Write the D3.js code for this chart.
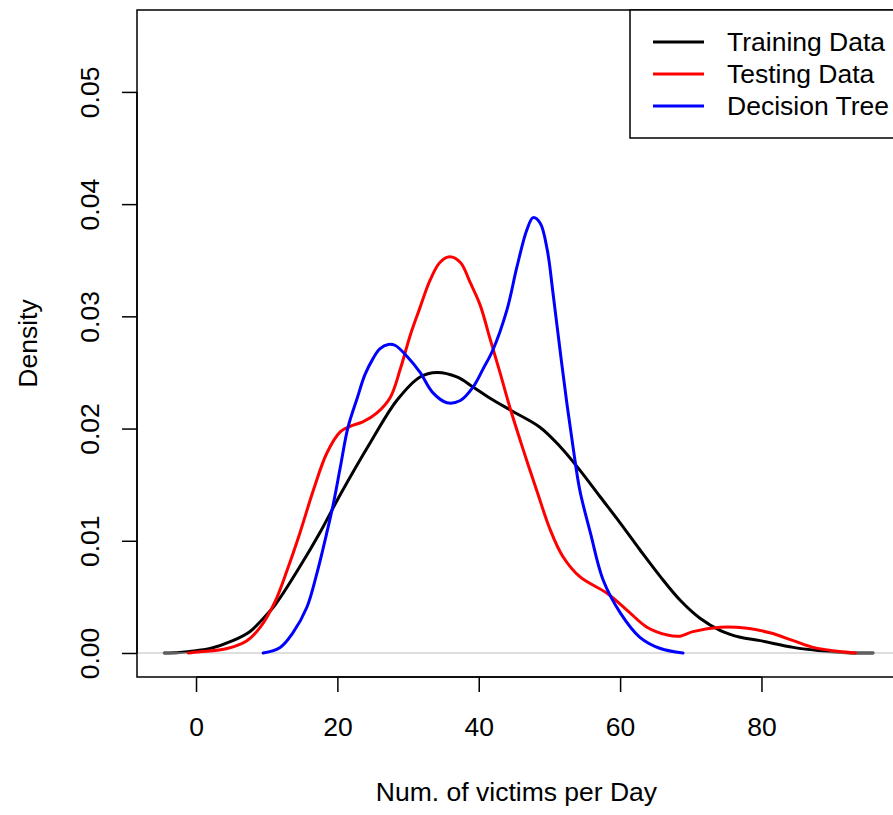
<!DOCTYPE html>
<html>
<head>
<meta charset="utf-8">
<script src="https://cdn.jsdelivr.net/npm/d3@7"></script>
<style>
  html, body { margin: 0; padding: 0; background: #fff; }
  svg { display: block; font-family: "Liberation Sans", Arial, Helvetica, sans-serif; }
</style>
</head>
<body>
<svg id="chart" width="893" height="815"></svg>
<script>
// Kernel density estimates: number of victims per day
const trainingX = [-4.5, -2.3, 0, 2.0, 5.2, 7.6, 9.1, 11.2, 14.7, 17.6, 20.4, 24.9, 28.4, 31.7, 34.1, 36.9, 39.2, 41.6, 44.9, 48.7, 51.5, 54.3, 57.2, 60.0, 62.8, 65.7, 68.5, 71.3, 74.2, 77.0, 79.8, 84.5, 88.3, 92.1, 95.8];
const trainingY = [0, 0.00005, 0.0002, 0.0004, 0.0011, 0.0019, 0.0028, 0.0043, 0.0077, 0.0108, 0.0141, 0.0190, 0.0225, 0.0246, 0.0250, 0.0246, 0.0237, 0.0227, 0.0215, 0.0201, 0.0184, 0.0163, 0.0139, 0.0116, 0.0092, 0.0068, 0.0047, 0.0031, 0.0020, 0.0014, 0.0011, 0.0005, 0.0002, 0.00003, 0];

const testingX = [-1.1, 0.6, 4.4, 7.2, 9.1, 11.2, 12.9, 14.7, 16.6, 18.5, 20.4, 21.8, 23.6, 25.6, 27.5, 28.9, 30.3, 31.7, 33.1, 34.5, 35.9, 37.4, 38.8, 40.2, 41.6, 43.0, 44.4, 46.3, 48.3, 50.1, 51.9, 54.3, 58.2, 61.0, 63.8, 66.7, 68.5, 70.3, 74.2, 78.0, 81.2, 84.5, 87.3, 90.1, 93.3];
const testingY = [0, 0.0001, 0.0004, 0.0011, 0.0023, 0.0046, 0.0074, 0.0107, 0.0145, 0.0178, 0.0197, 0.0202, 0.0206, 0.0214, 0.0228, 0.0253, 0.0283, 0.0308, 0.0332, 0.0348, 0.0353, 0.0348, 0.0330, 0.0310, 0.0280, 0.0250, 0.0219, 0.0181, 0.0143, 0.0110, 0.0086, 0.0068, 0.0053, 0.0038, 0.0023, 0.0016, 0.0015, 0.0019, 0.0023, 0.0022, 0.0018, 0.0011, 0.0005, 0.0002, 0];

const treeX = [9.5, 11.9, 13.7, 15.7, 17.1, 18.5, 19.4, 20.4, 21.5, 22.8, 23.9, 25.1, 26.0, 27.2, 28.2, 29.9, 31.7, 33.5, 35.5, 37.4, 39.2, 40.6, 42.0, 44.0, 45.4, 46.8, 47.7, 48.7, 49.7, 50.5, 51.5, 52.5, 53.4, 54.3, 55.8, 57.6, 60.0, 62.8, 65.7, 68.9];
const treeY = [0, 0.0005, 0.0018, 0.0041, 0.0071, 0.0107, 0.0132, 0.0165, 0.0201, 0.0227, 0.0248, 0.0263, 0.0271, 0.0275, 0.0274, 0.0264, 0.0250, 0.0232, 0.0223, 0.0225, 0.0237, 0.0253, 0.0270, 0.0306, 0.0344, 0.0377, 0.0388, 0.0383, 0.0359, 0.0321, 0.0270, 0.0221, 0.0181, 0.0145, 0.0107, 0.0065, 0.0036, 0.0014, 0.0004, 0];

const seriesNames = ["Training Data", "Testing Data", "Decision Tree"];
const seriesColors = ["#000000", "#ff0000", "#0000ff"];
const xTicks = [0, 20, 40, 60, 80];
const yTicks = [0, 0.01, 0.02, 0.03, 0.04, 0.05];
const xTitle = "Num. of victims per Day";
const yTitle = "Density";

const svg = d3.select("#chart");
const plot = { left: 137, top: 10, right: 900, bottom: 677 };

const x = d3.scaleLinear().domain([-8.35, 99.6]).range([plot.left, plot.right]);
const y = d3.scaleLinear().domain([-0.00214, 0.0573]).range([plot.bottom, plot.top]);

const toPoints = (xs, ys) => xs.map((v, i) => [v, ys[i]]);
const line = d3.line().x(d => x(d[0])).y(d => y(d[1])).curve(d3.curveCatmullRom.alpha(0.5));

const series = [
  toPoints(trainingX, trainingY),
  toPoints(testingX, testingY),
  toPoints(treeX, treeY)
];

const fontSize = 26.5;
const fontFamily = "Liberation Sans, Arial, sans-serif";

// Training density first, then the zero reference line, then the other curves
svg.append("path")
  .attr("d", line(series[0]))
  .attr("fill", "none")
  .attr("stroke", seriesColors[0])
  .attr("stroke-width", 3)
  .attr("stroke-linejoin", "round")
  .attr("stroke-linecap", "round");

svg.append("line")
  .attr("x1", plot.left).attr("x2", plot.right)
  .attr("y1", y(0)).attr("y2", y(0))
  .attr("stroke", "#bebebe")
  .attr("stroke-width", 1.2);

[1, 2].forEach(i => {
  svg.append("path")
    .attr("d", line(series[i]))
    .attr("fill", "none")
    .attr("stroke", seriesColors[i])
    .attr("stroke-width", 3)
    .attr("stroke-linejoin", "round")
    .attr("stroke-linecap", "round");
});

// Plot frame
svg.append("rect")
  .attr("x", plot.left).attr("y", plot.top)
  .attr("width", plot.right - plot.left)
  .attr("height", plot.bottom - plot.top)
  .attr("fill", "none")
  .attr("stroke", "#000")
  .attr("stroke-width", 1.5);

// X axis
const xAxis = d3.axisBottom(x).tickValues(xTicks).tickSize(15).tickPadding(25).tickFormat(d3.format("d"));
const gx = svg.append("g").attr("transform", `translate(0,${plot.bottom})`).call(xAxis);
gx.select(".domain").attr("d", `M${x(xTicks[0])},0H${x(xTicks[xTicks.length - 1])}`).attr("stroke-width", 1.5);
gx.selectAll(".tick line").attr("stroke-width", 1.5);
gx.selectAll(".tick text")
  .attr("font-size", fontSize)
  .attr("font-family", fontFamily)
  .attr("fill", "#000");

// Y axis with rotated tick labels
const yAxis = d3.axisLeft(y).tickValues(yTicks).tickSize(15).tickFormat(d3.format(".2f"));
const gy = svg.append("g").attr("transform", `translate(${plot.left},0)`).call(yAxis);
gy.select(".domain").attr("d", `M0,${y(yTicks[0])}V${y(yTicks[yTicks.length - 1])}`).attr("stroke-width", 1.5);
gy.selectAll(".tick line").attr("stroke-width", 1.5);
gy.selectAll(".tick text")
  .attr("font-size", fontSize)
  .attr("font-family", fontFamily)
  .attr("fill", "#000")
  .attr("x", null).attr("dy", null)
  .attr("text-anchor", "middle")
  .attr("dominant-baseline", "central")
  .attr("transform", `translate(-47,0) rotate(-90)`);

// Axis titles
svg.append("text")
  .attr("x", (plot.left + 896) / 2)
  .attr("y", 792)
  .attr("text-anchor", "middle")
  .attr("dominant-baseline", "central")
  .attr("font-size", fontSize)
  .text(xTitle);

svg.append("text")
  .attr("transform", `translate(28,${(plot.top + plot.bottom) / 2}) rotate(-90)`)
  .attr("text-anchor", "middle")
  .attr("dominant-baseline", "central")
  .attr("font-size", fontSize)
  .text(yTitle);

// Legend
const legend = svg.append("g");
legend.append("rect")
  .attr("x", 630).attr("y", plot.top)
  .attr("width", 300).attr("height", 128)
  .attr("fill", "#fff")
  .attr("stroke", "#000")
  .attr("stroke-width", 1.5);

seriesNames.forEach((name, i) => {
  const ly = 42 + i * 32;
  legend.append("line")
    .attr("x1", 653).attr("x2", 704)
    .attr("y1", ly).attr("y2", ly)
    .attr("stroke", seriesColors[i])
    .attr("stroke-width", 3);
  legend.append("text")
    .attr("x", 727).attr("y", ly)
    .attr("dominant-baseline", "central")
    .attr("font-size", fontSize)
    .text(name);
});
</script>
</body>
</html>
